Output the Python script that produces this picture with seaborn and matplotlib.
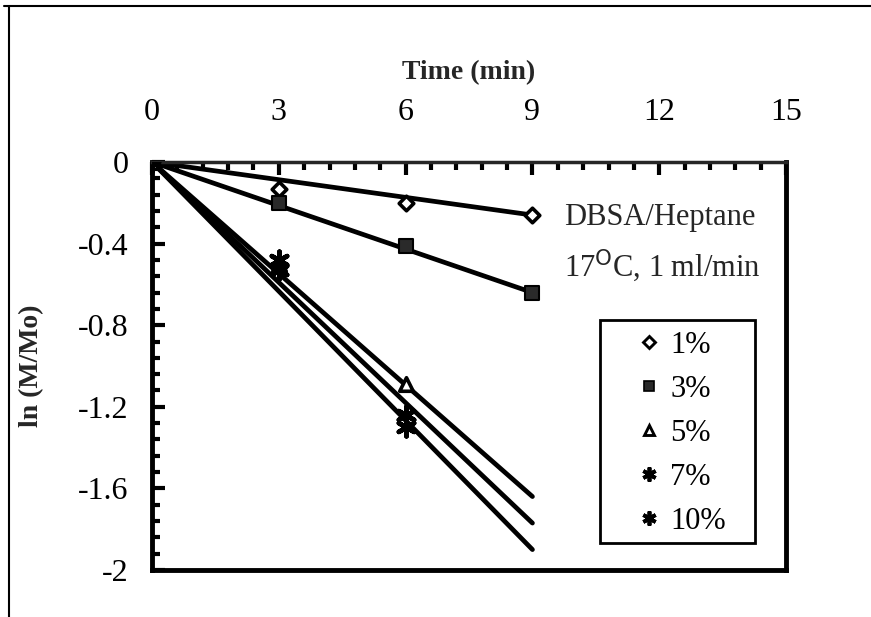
import numpy as np
import pandas as pd
import matplotlib
matplotlib.use("Agg")
import matplotlib.pyplot as plt
from matplotlib.lines import Line2D
from matplotlib.patches import Rectangle
from matplotlib.ticker import MultipleLocator
import seaborn as sns

# measured points, ln(M/Mo) vs time
time_full = [0, 3, 6, 9]
time_short = [0, 3, 6]
y_1 = [0, -0.13, -0.20, -0.26]
y_3 = [0, -0.20, -0.41, -0.64]
y_5 = [0, -0.50, -1.09]
y_7 = [0, -0.53, -1.24]
y_10 = [0, -0.48, -1.30]

# fitted line values at t = 9 (lines through origin)
labels = ["1%", "3%", "5%", "7%", "10%"]
fit_end = [-0.26, -0.64, -1.64, -1.77, -1.90]
fit_t = [0, 9]

sns.set_theme(style="ticks")
plt.rcParams["font.family"] = ["Liberation Serif", "DejaVu Serif"]

fig = plt.figure(figsize=(8.71, 6.17), dpi=100)
ax = fig.add_axes([0.1745, 0.0762, 0.7280, 0.6612])

# fit lines
for lab, end in zip(labels, fit_end):
    line_df = pd.DataFrame({"t": fit_t, "y": [0, end]})
    sns.lineplot(data=line_df, x="t", y="y", ax=ax, color="black", lw=3.4,
                 legend=False)

styles = {
    "1%": dict(marker="D", s=55, facecolor="white", edgecolor="black", linewidth=2.6),
    "3%": dict(marker="s", s=90, facecolor="#2a2a2a", edgecolor="black", linewidth=1.5),
    "5%": dict(marker="^", s=95, facecolor="white", edgecolor="black", linewidth=2.6),
    "7%": dict(marker=(6, 2, 0), s=160, facecolor="black", edgecolor="black", linewidth=3.4),
    "10%": dict(marker=(6, 2, 0), s=160, facecolor="black", edgecolor="black", linewidth=3.4),
}
series = {
    "1%": (time_full, y_1),
    "3%": (time_full, y_3),
    "5%": (time_short, y_5),
    "7%": (time_short, y_7),
    "10%": (time_short, y_10),
}
for lab in labels:
    t, y = series[lab]
    st = styles[lab]
    sns.scatterplot(x=t, y=y, ax=ax, marker=st["marker"], s=st["s"],
                    color=st["facecolor"], edgecolor=st["edgecolor"],
                    linewidth=st["linewidth"], zorder=5, legend=False)

ax.set_xlim(0, 15)
ax.set_ylim(-2, 0)
ax.xaxis.set_major_locator(MultipleLocator(3))
ax.xaxis.set_minor_locator(MultipleLocator(0.6))
ax.yaxis.set_major_locator(MultipleLocator(0.4))
ax.yaxis.set_minor_locator(MultipleLocator(0.08))
ax.set_yticks([0, -0.4, -0.8, -1.2, -1.6, -2])
ax.set_yticklabels(["0", "-0.4", "-0.8", "-1.2", "-1.6", "-2"])

ax.xaxis.tick_top()
ax.xaxis.set_label_position("top")
ax.tick_params(axis="x", which="both", direction="in", top=True, bottom=False,
               labelsize=23, pad=25, colors="black")
ax.tick_params(axis="y", which="both", direction="in", left=True, right=False,
               labelsize=23, pad=17, colors="black")
ax.tick_params(which="major", length=9, width=3)
ax.tick_params(which="minor", length=6, width=3)

for side in ["left", "bottom", "right"]:
    ax.spines[side].set_linewidth(3.5)
    ax.spines[side].set_color("black")
    ax.spines[side].set_visible(True)
ax.spines["top"].set_linewidth(2.5)
ax.spines["top"].set_visible(True)

ax.set_xlabel("Time (min)", fontsize=20, fontweight="bold", labelpad=14)
ax.set_ylabel("ln (M/Mo)", fontsize=20, fontweight="bold")
ax.yaxis.set_label_coords(-0.17, 0.5)

ax.text(0.65, 0.865, "DBSA/Heptane", transform=ax.transAxes, fontsize=22,
        ha="left", va="center")
ax.text(0.65, 0.745, r"17$^{\mathrm{O}}$C, 1 ml/min", transform=ax.transAxes,
        fontsize=22, ha="left", va="center")

# legend frame is wider than its content in the original
ax.add_patch(Rectangle((0.7065, 0.066), 0.2445, 0.547, transform=ax.transAxes,
                       facecolor="white", edgecolor="black", lw=2, zorder=4))

handles = []
for lab in labels:
    st = styles[lab]
    handles.append(Line2D([], [], ls="none", marker=st["marker"],
                          markersize=np.sqrt(st["s"]) * 0.8,
                          markerfacecolor=st["facecolor"],
                          markeredgecolor=st["edgecolor"],
                          markeredgewidth=st["linewidth"] * 0.8))
leg = ax.legend(handles, labels, loc="upper left", bbox_to_anchor=(0.743, 0.62),
                fontsize=22, frameon=False, handlelength=0.8, handletextpad=0.3,
                labelspacing=0.49, borderpad=0.45, borderaxespad=0)
leg.set_zorder(6)
for txt in leg.get_texts():
    txt.set_color("black")

# outer frame of the figure
fig.add_artist(Line2D([0.010, 0.010], [0, 0.99], transform=fig.transFigure,
                      color="black", lw=1.5))
fig.add_artist(Line2D([0.005, 1.0], [0.99, 0.99], transform=fig.transFigure,
                      color="black", lw=1.5))

fig.savefig("out.png", dpi=100, facecolor="white")
